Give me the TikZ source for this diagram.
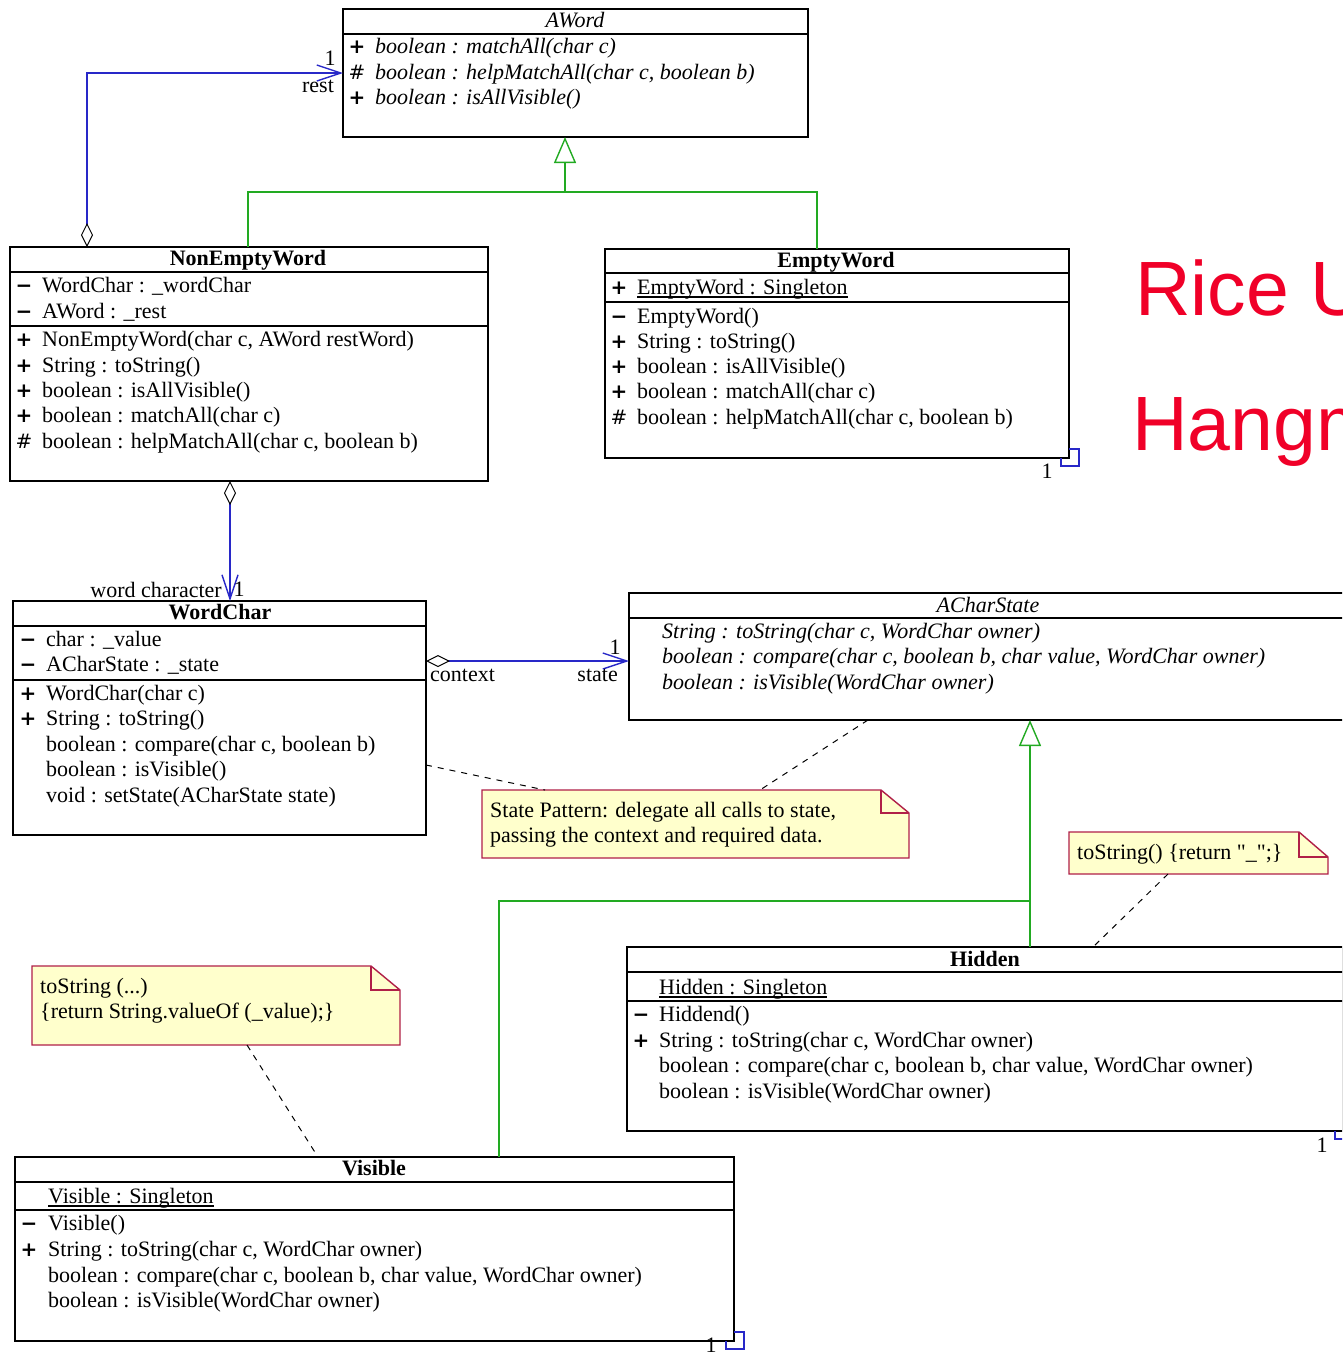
\documentclass[tikz,border=0pt]{standalone}
\usepackage{fontspec}
\setmainfont{Liberation Serif}
\newfontfamily\symfont{DejaVu Sans}
\newfontfamily\bannerfont{Liberation Sans}
\usetikzlibrary{arrows.meta,calc}

% straight double quote, set as a glyph so that no input mapping curls it
\newcommand\straightquote{\XeTeXglyph\XeTeXcharglyph"22\relax}

\definecolor{umlblue}{RGB}{40,40,200}
\definecolor{umlgreen}{RGB}{34,170,34}
\definecolor{notefill}{RGB}{255,255,204}
\definecolor{noteedge}{RGB}{176,32,72}
\definecolor{ricered}{RGB}{240,0,40}

\tikzset{
  cls/.style={draw=black, line width=1.4pt, fill=white, anchor=north west, inner sep=0pt, outer sep=0pt},
  sep/.style={draw=black, line width=1.4pt},
  txt/.style={anchor=base west, inner sep=0pt, font=\fontsize{22}{25}\selectfont},
  itxt/.style={anchor=base west, inner sep=0pt, font=\fontsize{22}{25}\selectfont\itshape},
  ttl/.style={anchor=base, inner sep=0pt, font=\fontsize{22}{25}\selectfont\bfseries},
  ittl/.style={anchor=base, inner sep=0pt, font=\fontsize{22}{25}\selectfont\itshape},
  sym/.style={anchor=base, inner sep=0pt, font=\symfont\bfseries\fontsize{20}{20}\selectfont},
  hsym/.style={anchor=base, inner sep=0pt, font=\symfont\fontsize{20}{20}\selectfont},
  lbl/.style={inner sep=0pt, font=\fontsize{22}{25}\selectfont},
  uline/.style={draw=black, line width=1.1pt},
  notebox/.style={anchor=north west, inner sep=0pt, outer sep=0pt},
  note/.style={draw=noteedge, fill=notefill, line width=1.4pt},
  noteline/.style={draw=black, line width=1pt, dash pattern=on 6pt off 6pt},
  gen/.style={draw=umlgreen, line width=1.4pt},
  genhead/.style={draw=umlgreen, line width=1.4pt, arrows={-Triangle[length=26pt,width=22pt,fill=white]}},
  assoc/.style={draw=umlblue, line width=1.4pt,
    arrows={Diamond[length=24pt,width=12pt,color=black,fill=white,line width=1pt]-Straight Barb[length=24pt,width=16pt]}},
  single/.style={draw=umlblue, line width=1.4pt}
}

\begin{document}
\begin{tikzpicture}[x=1pt,y=-1pt]
\useasboundingbox (0,0) rectangle (1342,1358);
\clip (0,0) rectangle (1342,1358);
\fill[white] (0,0) rectangle (1342,1358);

% ---------- AWord ----------
\node[cls, minimum width=465pt, minimum height=128pt] (aword) at (343,9) {};
\draw[sep] (aword.west |- 0,34) -- (aword.east |- 0,34);
\node[ittl] (awT) at (575,27) {AWord};
\node[sym] (aw1s) at (357,53) {+};
\node[itxt] (aw1) at (375,53) {boolean : matchAll(char c)};
\node[hsym] (aw2s) at (357,79) {\#};
\node[itxt] (aw2) at (375,79) {boolean : helpMatchAll(char c, boolean b)};
\node[sym] (aw3s) at (357,104) {+};
\node[itxt] (aw3) at (375,104) {boolean : isAllVisible()};

% ---------- NonEmptyWord ----------
\node[cls, minimum width=478pt, minimum height=234pt] (nonempty) at (10,247) {};
\draw[sep] (nonempty.west |- 0,272) -- (nonempty.east |- 0,272);
\draw[sep] (nonempty.west |- 0,326) -- (nonempty.east |- 0,326);
\node[ttl] (neT) at (248,265) {NonEmptyWord};
\node[sym] (ne1s) at (24,292) {−};
\node[txt] (ne1) at (42,292) {WordChar : \_wordChar};
\node[sym] (ne2s) at (24,318) {−};
\node[txt] (ne2) at (42,318) {AWord : \_rest};
\node[sym] (ne3s) at (24,346) {+};
\node[txt] (ne3) at (42,346) {NonEmptyWord(char c, AWord restWord)};
\node[sym] (ne4s) at (24,372) {+};
\node[txt] (ne4) at (42,372) {String : toString()};
\node[sym] (ne5s) at (24,397) {+};
\node[txt] (ne5) at (42,397) {boolean : isAllVisible()};
\node[sym] (ne6s) at (24,422) {+};
\node[txt] (ne6) at (42,422) {boolean : matchAll(char c)};
\node[hsym] (ne7s) at (24,448) {\#};
\node[txt] (ne7) at (42,448) {boolean : helpMatchAll(char c, boolean b)};

% ---------- EmptyWord ----------
\node[cls, minimum width=464pt, minimum height=209pt] (emptyword) at (605,249) {};
\draw[sep] (emptyword.west |- 0,273) -- (emptyword.east |- 0,273);
\draw[sep] (emptyword.west |- 0,302) -- (emptyword.east |- 0,302);
\node[ttl] (ewT) at (836,267) {EmptyWord};
\node[sym] (ew1s) at (619,294) {+};
\node[txt] (ew1) at (637,294) {EmptyWord : Singleton};
\draw[uline] ([yshift=-3]ew1.base west) -- ([yshift=-3]ew1.base east);
\node[sym] (ew2s) at (619,323) {−};
\node[txt] (ew2) at (637,323) {EmptyWord()};
\node[sym] (ew3s) at (619,348) {+};
\node[txt] (ew3) at (637,348) {String : toString()};
\node[sym] (ew4s) at (619,373) {+};
\node[txt] (ew4) at (637,373) {boolean : isAllVisible()};
\node[sym] (ew5s) at (619,398) {+};
\node[txt] (ew5) at (637,398) {boolean : matchAll(char c)};
\node[hsym] (ew6s) at (619,424) {\#};
\node[txt] (ew6) at (637,424) {boolean : helpMatchAll(char c, boolean b)};
\draw[single] ([yshift=9]emptyword.south east) -- ++(10,0) -- ++(0,17) -- ++(-18,0) -- ++(0,-8);
\node[lbl] (ewOne) at (1047,471) {1};

% ---------- WordChar ----------
\node[cls, minimum width=413pt, minimum height=234pt] (wordchar) at (13,601) {};
\draw[sep] (wordchar.west |- 0,626) -- (wordchar.east |- 0,626);
\draw[sep] (wordchar.west |- 0,680) -- (wordchar.east |- 0,680);
\node[ttl] (wcT) at (220,619) {WordChar};
\node[sym] (wc1s) at (28,646) {−};
\node[txt] (wc1) at (46,646) {char : \_value};
\node[sym] (wc2s) at (28,671) {−};
\node[txt] (wc2) at (46,671) {ACharState : \_state};
\node[sym] (wc3s) at (28,700) {+};
\node[txt] (wc3) at (46,700) {WordChar(char c)};
\node[sym] (wc4s) at (28,725) {+};
\node[txt] (wc4) at (46,725) {String : toString()};
\node[txt] (wc5) at (46,751) {boolean : compare(char c, boolean b)};
\node[txt] (wc6) at (46,776) {boolean : isVisible()};
\node[txt] (wc7) at (46,802) {void : setState(ACharState state)};

% ---------- ACharState ----------
\node[cls, minimum width=718pt, minimum height=127pt] (acharstate) at (629,593) {};
\draw[sep] (acharstate.west |- 0,618) -- (acharstate.east |- 0,618);
\node[ittl] (acT) at (988,612) {ACharState};
\node[itxt] (ac1) at (662,638) {String : toString(char c, WordChar owner)};
\node[itxt] (ac2) at (662,663) {boolean : compare(char c, boolean b, char value, WordChar owner)};
\node[itxt] (ac3) at (662,689) {boolean : isVisible(WordChar owner)};

% ---------- Hidden ----------
\node[cls, minimum width=716pt, minimum height=184pt] (hidden) at (627,947) {};
\draw[sep] (hidden.west |- 0,972) -- (hidden.east |- 0,972);
\draw[sep] (hidden.west |- 0,1001) -- (hidden.east |- 0,1001);
\node[ttl] (hdT) at (985,966) {Hidden};
\node[txt] (hd1) at (659,994) {Hidden : Singleton};
\draw[uline] ([yshift=-3]hd1.base west) -- ([yshift=-3]hd1.base east);
\node[sym] (hd2s) at (641,1021) {−};
\node[txt] (hd2) at (659,1021) {Hiddend()};
\node[sym] (hd3s) at (641,1047) {+};
\node[txt] (hd3) at (659,1047) {String : toString(char c, WordChar owner)};
\node[txt] (hd4) at (659,1072) {boolean : compare(char c, boolean b, char value, WordChar owner)};
\node[txt] (hd5) at (659,1098) {boolean : isVisible(WordChar owner)};
\draw[single] ([yshift=9]hidden.south east) -- ++(10,0) -- ++(0,17) -- ++(-18,0) -- ++(0,-8);
\node[lbl] (hdOne) at (1322,1145) {1};

% ---------- Visible ----------
\node[cls, minimum width=719pt, minimum height=184pt] (visible) at (15,1157) {};
\draw[sep] (visible.west |- 0,1182) -- (visible.east |- 0,1182);
\draw[sep] (visible.west |- 0,1210) -- (visible.east |- 0,1210);
\node[ttl] (vsT) at (374,1175) {Visible};
\node[txt] (vs1) at (48,1203) {Visible : Singleton};
\draw[uline] ([yshift=-3]vs1.base west) -- ([yshift=-3]vs1.base east);
\node[sym] (vs2s) at (29,1230) {−};
\node[txt] (vs2) at (48,1230) {Visible()};
\node[sym] (vs3s) at (29,1256) {+};
\node[txt] (vs3) at (48,1256) {String : toString(char c, WordChar owner)};
\node[txt] (vs4) at (48,1282) {boolean : compare(char c, boolean b, char value, WordChar owner)};
\node[txt] (vs5) at (48,1307) {boolean : isVisible(WordChar owner)};
\draw[single] ([yshift=9]visible.south east) -- ++(10,0) -- ++(0,17) -- ++(-18,0) -- ++(0,-8);
\node[lbl] (vsOne) at (711,1345) {1};

% ---------- notes ----------
\node[notebox, minimum width=427pt, minimum height=68pt] (note1) at (482,790) {};
\draw[note] (note1.north west) -- ([xshift=-28]note1.north east) -- ([yshift=-23]note1.north east)
  -- (note1.south east) -- (note1.south west) -- cycle;
\draw[note, fill=none] ([xshift=-28]note1.north east) |- ([yshift=-23]note1.north east);
\node[txt] (note1a) at (490,817) {State Pattern: delegate all calls to state,};
\node[txt] (note1b) at (490,842) {passing the context and required data.};

\node[notebox, minimum width=259pt, minimum height=42pt] (note2) at (1069,832) {};
\draw[note] (note2.north west) -- ([xshift=-29]note2.north east) -- ([yshift=-25]note2.north east)
  -- (note2.south east) -- (note2.south west) -- cycle;
\draw[note, fill=none] ([xshift=-29]note2.north east) |- ([yshift=-25]note2.north east);
\node[txt] (note2a) at (1077,859) {toString() \{return \straightquote\_\straightquote;\}};

\node[notebox, minimum width=368pt, minimum height=79pt] (note3) at (32,966) {};
\draw[note] (note3.north west) -- ([xshift=-29]note3.north east) -- ([yshift=-24]note3.north east)
  -- (note3.south east) -- (note3.south west) -- cycle;
\draw[note, fill=none] ([xshift=-29]note3.north east) |- ([yshift=-24]note3.north east);
\node[txt] (note3a) at (40,993) {toString (...)};
\node[txt] (note3b) at (40,1018) {\{return String.valueOf (\_value);\}};

% ---------- note anchors ----------
\draw[noteline] (wordchar.east |- 0,765) -- ([xshift=63]note1.north west);
\draw[noteline] (acharstate.south -| 868,0) -- ([xshift=278]note1.north west);
\draw[noteline] ([xshift=99]note2.south west) -- (hidden.north -| 1093,0);
\draw[noteline] ([xshift=215]note3.south west) -- (visible.north -| 318,0);

% ---------- generalisation ----------
\coordinate (neTop) at ([xshift=238]nonempty.north west);
\coordinate (ewTop) at ([xshift=212]emptyword.north west);
\coordinate (wordBus) at (565,192);
\draw[gen] (neTop) -- (neTop |- wordBus) -- (ewTop |- wordBus) -- (ewTop);
\draw[genhead] (wordBus) -- (aword.south -| wordBus);

\coordinate (stateBus) at (1030,901);
\coordinate (vsTop) at ([xshift=484]visible.north west);
\draw[gen] (vsTop) |- (stateBus);
\draw[genhead] (hidden.north -| stateBus) -- (acharstate.south -| stateBus);

% ---------- associations ----------
\draw[assoc] ([xshift=77]nonempty.north west) |- (aword.west);
\node[lbl] (restOne) at (330,58) {1};
\node[lbl] (restL) at (318,86) {rest};

\coordinate (wcLink) at (230,0);
\draw[assoc] (nonempty.south -| wcLink) -- (wordchar.north -| wcLink);
\node[lbl, anchor=east] (wcL) at (222,590) {word character};
\node[lbl] (wcOne) at (239,589) {1};

\coordinate (stLink) at (0,661);
\draw[assoc] (wordchar.east |- stLink) -- (acharstate.west |- stLink);
\node[lbl, anchor=west] (ctxL) at (430,675) {context};
\node[lbl, anchor=east] (stL) at (618,675) {state};
\node[lbl] (stOne) at (615,647) {1};

% ---------- banner ----------
\node[anchor=base west, inner sep=0pt, font=\bannerfont\fontsize{77}{80}\selectfont, text=ricered] (rice) at (1135,315) {Rice U};
\node[anchor=base west, inner sep=0pt, font=\bannerfont\fontsize{77}{80}\selectfont, text=ricered] (hangm) at (1132,450) {Hangm};
\end{tikzpicture}
\end{document}
